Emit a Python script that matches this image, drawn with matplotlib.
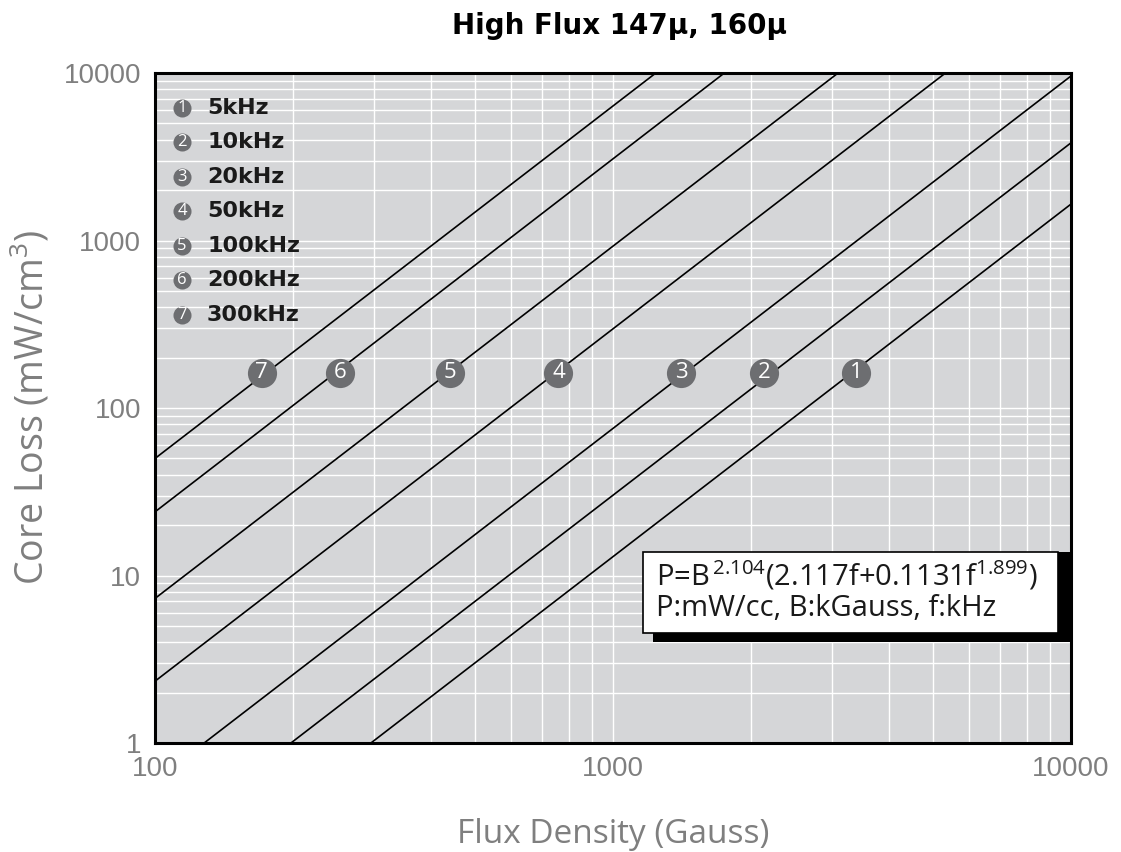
import numpy as np
import matplotlib
matplotlib.use("Agg")
import matplotlib.pyplot as plt
from matplotlib.patches import Rectangle
from matplotlib.ticker import LogLocator, NullFormatter, FixedLocator, FixedFormatter

# line end points (B in Gauss, P in mW/cm^3)
labels = ["5kHz", "10kHz", "20kHz", "50kHz", "100kHz", "200kHz", "300kHz"]
b_start = [296, 198, 128, 100, 100, 100, 100]
b_end = [10000, 10000, 10000, 5320, 3100, 1750, 1240]
p_start = [1, 1, 1, 2.34, 7.3, 24, 50]
p_end = [1650, 3830, 9600, 10000, 10000, 10000, 10000]

# numbered badges sitting on each line
badge_b = [3400, 2140, 1410, 760, 440, 254, 171]
badge_p = [162, 162, 162, 162, 162, 162, 162]

x_ticks = [100, 1000, 10000]
y_ticks = [1, 10, 100, 1000, 10000]

gray_txt = "#7f7f7f"
badge_col = "#6d6e71"

plt.rcParams["font.family"] = ["Open Sans", "DejaVu Sans"]
plt.rcParams["mathtext.default"] = "regular"

fig = plt.figure(figsize=(11.21, 8.52), dpi=100)
ax = fig.add_axes([0.1383, 0.1279, 0.8171, 0.7864])
ax.set_facecolor("#d5d6d8")
ax.set_xscale("log")
ax.set_yscale("log")
ax.set_xlim(100, 10000)
ax.set_ylim(1, 10000)

ax.xaxis.set_minor_locator(LogLocator(base=10, subs=np.arange(2, 10)))
ax.yaxis.set_minor_locator(LogLocator(base=10, subs=np.arange(2, 10)))
ax.xaxis.set_minor_formatter(NullFormatter())
ax.yaxis.set_minor_formatter(NullFormatter())
ax.xaxis.set_major_locator(FixedLocator(x_ticks))
ax.xaxis.set_major_formatter(FixedFormatter([str(v) for v in x_ticks]))
ax.yaxis.set_major_locator(FixedLocator(y_ticks))
ax.yaxis.set_major_formatter(FixedFormatter([str(v) for v in y_ticks]))
ax.grid(True, which="both", color="white", linewidth=1.0)
ax.set_axisbelow(True)
ax.tick_params(which="both", length=0)
ax.tick_params(axis="x", pad=9, labelsize=20, labelcolor=gray_txt)
ax.tick_params(axis="y", pad=10, labelsize=20, labelcolor=gray_txt)
for tl in ax.get_xticklabels() + ax.get_yticklabels():
    tl.set_family(["Liberation Sans", "DejaVu Sans"])
for s in ax.spines.values():
    s.set_linewidth(2.2)
    s.set_color("black")

for i in range(len(labels)):
    ax.plot([b_start[i], b_end[i]], [p_start[i], p_end[i]], color="black",
            linewidth=1.2, solid_capstyle="butt", zorder=3)

for i in range(len(badge_b)):
    ax.plot(badge_b[i], badge_p[i], marker="o", markersize=21,
            markerfacecolor=badge_col, markeredgecolor="none", zorder=4)
    ax.text(badge_b[i], badge_p[i], str(i + 1), color="white", fontsize=16,
            ha="center", va="center", zorder=5)

# legend list, top left
for i, lab in enumerate(labels):
    y = 0.948 - i * 0.0515
    ax.plot(0.0295, y, marker="o", markersize=13, markerfacecolor=badge_col,
            markeredgecolor="none", transform=ax.transAxes, zorder=4)
    ax.text(0.0295, y, str(i + 1), color="white", fontsize=12, ha="center",
            va="center", transform=ax.transAxes, zorder=5)
    ax.text(0.0568, y, lab, fontsize=16, fontweight="bold", color="#1a1a1a",
            family="DejaVu Sans", ha="left", va="center",
            transform=ax.transAxes, zorder=5)

# formula box with drop shadow
ax.add_patch(Rectangle((0.544, 0.151), 0.456, 0.134, transform=ax.transAxes,
                       facecolor="black", edgecolor="none", zorder=5))
ax.add_patch(Rectangle((0.533, 0.164), 0.453, 0.121, transform=ax.transAxes,
                       facecolor="white", edgecolor="black", linewidth=1.2,
                       zorder=6))
ax.text(0.547, 0.250, r"P=B$^{\,2.104}$(2.117f+0.1131f$^{1.899}$)", fontsize=21,
        color="#1a1a1a", ha="left", va="center", transform=ax.transAxes,
        zorder=7)
ax.text(0.547, 0.201, "P:mW/cc, B:kGauss, f:kHz", fontsize=21,
        color="#1a1a1a", ha="left", va="center", transform=ax.transAxes,
        zorder=7)

ax.set_xlabel("Flux Density (Gauss)", fontsize=24, color=gray_txt, labelpad=26)
ax.set_ylabel("Core Loss (mW/cm$^3$)", fontsize=27, color=gray_txt, labelpad=8)
fig.text(0.553, 0.97, "High Flux 147\u03bc, 160\u03bc", fontsize=20,
         fontweight="bold", ha="center", va="center", family="DejaVu Sans")

fig.savefig("out.png", dpi=100)
